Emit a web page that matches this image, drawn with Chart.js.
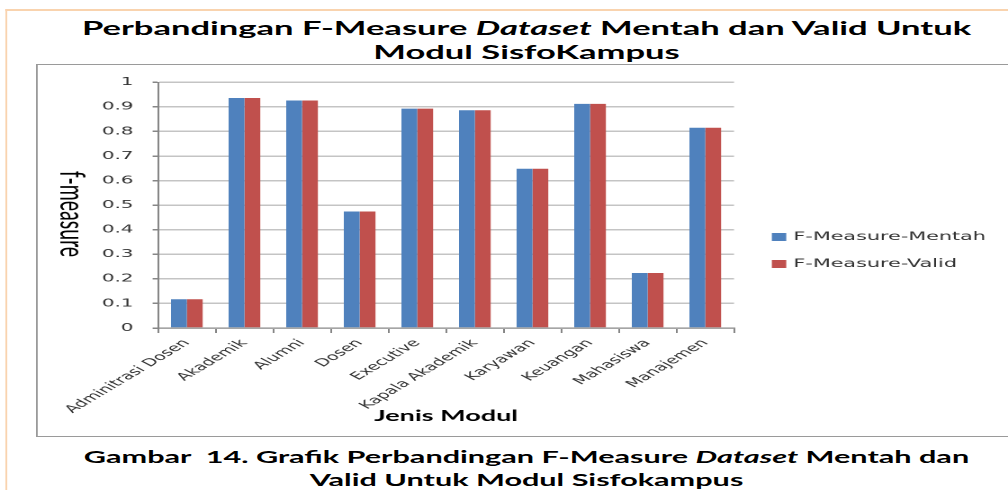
<!DOCTYPE html>
<html>
<head>
<meta charset="utf-8">
<script src="https://cdn.jsdelivr.net/npm/chart.js@4.4.0/dist/chart.umd.min.js"></script>
<style>
  html, body { margin: 0; padding: 0; background: #fff; overflow: hidden; }
  /* the reference figure is stretched sideways, so the page is laid out narrow and scaled */
  #page { position: absolute; left: 0; top: 0; width: 560px; height: 490px; overflow: hidden;
          transform: scaleX(1.8); transform-origin: 0 0; background: #fff; }
  #frame { position: absolute; left: 3.3px; top: 9px; width: 700px; height: 600px;
           border-top: 2px solid #f9d3ae; border-left: 1px solid #f9d3ae; }
  .head { position: absolute; left: 0; width: 585px; text-align: center;
          font-family: Lato, sans-serif; font-weight: bold; color: #000; }
  #title { top: 15.6px; font-size: 19.2px; line-height: 24px; }
  #caption { top: 444.7px; font-size: 17px; line-height: 23.5px; }
  #box { position: absolute; left: 20px; top: 64px; width: 600px; height: 371px;
         border: 1px solid #9a9a9a; background: #fff; }
  #wrap { position: absolute; left: 0; top: 0; width: 539px; height: 371px; }
</style>
</head>
<body>
<div id="page">
  <div id="frame"></div>
  <div id="title" class="head">Perbandingan F-Measure <i>Dataset</i> Mentah dan Valid Untuk<br>Modul SisfoKampus</div>
  <div id="box"><div id="wrap"><canvas id="chart"></canvas></div></div>
  <div id="caption" class="head">Gambar&nbsp; 14. Grafik Perbandingan F-Measure <i>Dataset</i> Mentah dan<br>Valid Untuk Modul Sisfokampus</div>
</div>
<script>
const categories = ["Adminitrasi Dosen", "Akademik", "Alumni", "Dosen", "Executive",
  "Kapala Akademik", "Karyawan", "Keuangan", "Mahasiswa", "Manajemen"];
const fMentah = [0.117, 0.936, 0.926, 0.474, 0.893, 0.886, 0.648, 0.912, 0.224, 0.815];
const fValid = [0.117, 0.936, 0.926, 0.474, 0.893, 0.886, 0.648, 0.912, 0.224, 0.815];
const seriesNames = ["F-Measure-Mentah", "F-Measure-Valid"];
const yTicks = [0, 0.1, 0.2, 0.3, 0.4, 0.5, 0.6, 0.7, 0.8, 0.9, 1];
const yTitle = "f-measure";
const xTitle = "Jenis Modul";

// y title reads top to bottom, and the legend sits right of the plot
const sideText = {
  id: "sideText",
  afterDraw(chart) {
    const ctx = chart.ctx;
    const area = chart.chartArea;
    ctx.save();
    ctx.translate(19, 149);
    ctx.rotate(Math.PI / 2);
    ctx.font = "19.5px Lato";
    ctx.fillStyle = "#000";
    ctx.textAlign = "center";
    ctx.textBaseline = "middle";
    ctx.fillText(yTitle, 0, 0);
    ctx.restore();

    ctx.save();
    ctx.font = "11.5px 'DejaVu Sans'";
    ctx.textBaseline = "middle";
    chart.data.datasets.forEach((ds, i) => {
      const y = 172 + i * 27;
      ctx.fillStyle = ds.backgroundColor;
      ctx.fillRect(area.right + 21, y - 4, 8, 8);
      ctx.fillStyle = "#333";
      ctx.fillText(ds.label, area.right + 33, y);
    });
    ctx.restore();
  }
};

new Chart(document.getElementById("chart"), {
  type: "bar",
  data: {
    labels: categories,
    datasets: [
      { label: seriesNames[0], data: fMentah, backgroundColor: "#4f81bd" },
      { label: seriesNames[1], data: fValid, backgroundColor: "#c0504d" }
    ]
  },
  options: {
    responsive: true,
    maintainAspectRatio: false,
    animation: false,
    devicePixelRatio: 2,
    categoryPercentage: 0.55,
    barPercentage: 1,
    layout: { padding: { top: 16, right: 152.2, left: 0, bottom: 0 } },
    plugins: { legend: { display: false }, tooltip: { enabled: false } },
    scales: {
      x: {
        grid: { drawOnChartArea: false, tickLength: 5, color: "#868686", offset: true },
        border: { color: "#868686", width: 1 },
        ticks: { autoSkip: false, minRotation: 47, maxRotation: 47, padding: 4, color: "#333",
                 font: { family: "DejaVu Sans", size: 10.5 } },
        title: { display: true, text: xTitle, color: "#000",
                 font: { family: "Lato", weight: "bold", size: 15 }, padding: { top: 0, bottom: 11 } },
        afterFit(scale) { scale.height = 108; }
      },
      y: {
        min: 0,
        max: 1,
        afterBuildTicks(scale) { scale.ticks = yTicks.map(v => ({ value: v })); },
        grid: { color: "#c4c4c4", lineWidth: 1.5, tickLength: 3, tickColor: "#868686" },
        border: { color: "#868686", width: 1 },
        ticks: { padding: 10.7, color: "#333", font: { family: "DejaVu Sans", size: 11 },
                 callback: v => String(v) },
        afterFit(scale) { scale.width = 66.8; }
      }
    }
  },
  plugins: [sideText]
});
</script>
</body>
</html>
